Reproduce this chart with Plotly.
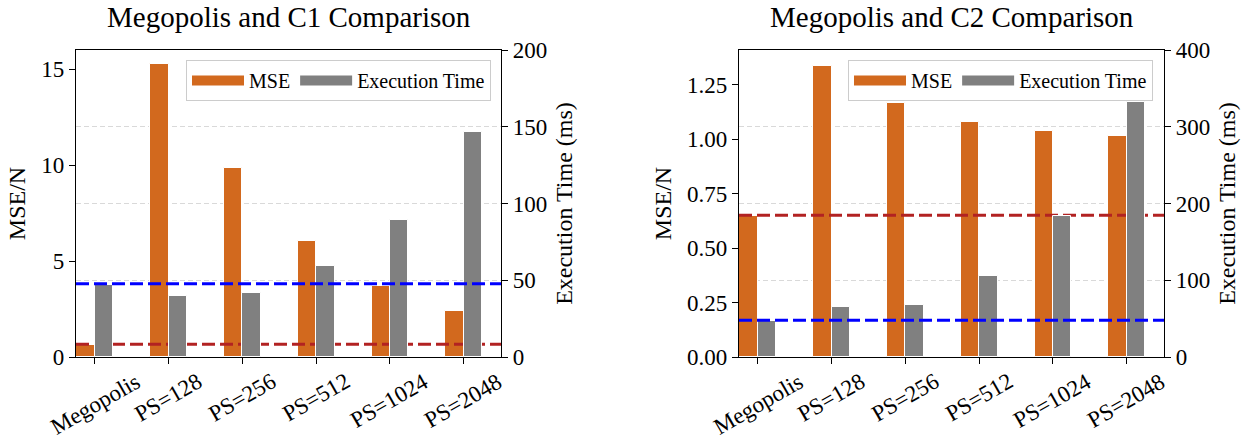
import plotly.graph_objects as go

# ---------------- data ----------------
categories = ["Megopolis", "PS=128", "PS=256", "PS=512", "PS=1024", "PS=2048"]

c1_mse = [0.62, 15.27, 9.83, 6.05, 3.70, 2.38]
c1_time = [46.8, 39.6, 41.5, 59.6, 89.3, 146.7]
c1_mse_ref = 0.66
c1_time_ref = 47.8

c2_mse = [0.647, 1.337, 1.166, 1.080, 1.039, 1.016]
c2_time = [46.5, 65.2, 67.4, 106.1, 183.9, 331.8]
c2_mse_ref = 0.651
c2_time_ref = 47.9

titles = ["Megopolis and C1 Comparison", "Megopolis and C2 Comparison"]

# ---------------- style ----------------
FONT = "Liberation Serif"
ORANGE = "#D2691E"
GRAY = "#808080"
RED = "#B22222"
BLUE = "#0000FF"
W, H = 1252, 442
XLIM = [-0.255, 5.505]
BAR_W = 0.25

pos = list(range(len(categories)))

fig = go.Figure()

panels = [
    dict(mse=c1_mse, time=c1_time, mref=c1_mse_ref, tref=c1_time_ref,
         x="x", y="y", y2="y2", legend="legend",
         ymax=16.0, t_max=200, t_dtick=50, m_dtick=5, m_fmt="d"),
    dict(mse=c2_mse, time=c2_time, mref=c2_mse_ref, tref=c2_time_ref,
         x="x2", y="y3", y2="y4", legend="legend2",
         ymax=1.409, t_max=400, t_dtick=100, m_dtick=0.25, m_fmt=".2f"),
]

for p in panels:
    fig.add_trace(go.Bar(x=pos, y=p["mse"], offset=-BAR_W, width=BAR_W,
                         marker=dict(color=ORANGE, line=dict(color="white", width=1)),
                         name="MSE", showlegend=False,
                         xaxis=p["x"], yaxis=p["y"]))
    fig.add_trace(go.Scatter(x=XLIM, y=[p["mref"]] * 2, mode="lines",
                             line=dict(color=RED, width=3, dash="13px,5px"),
                             showlegend=False, xaxis=p["x"], yaxis=p["y"], hoverinfo="skip"))
    fig.add_trace(go.Bar(x=pos, y=p["time"], offset=0, width=BAR_W,
                         marker=dict(color=GRAY, line=dict(color="white", width=1)),
                         name="Execution Time", showlegend=False,
                         xaxis=p["x"], yaxis=p["y2"]))
    fig.add_trace(go.Scatter(x=XLIM, y=[p["tref"]] * 2, mode="lines",
                             line=dict(color=BLUE, width=3, dash="13px,5px"),
                             showlegend=False, xaxis=p["x"], yaxis=p["y2"], hoverinfo="skip"))
    # legend entries (patch-like swatches)
    for nm, col in (("MSE", ORANGE), ("Execution Time", GRAY)):
        fig.add_trace(go.Scatter(x=[None], y=[None], mode="lines", name=nm,
                                 line=dict(color=col, width=12),
                                 legend=p["legend"], xaxis=p["x"], yaxis=p["y"]))

ydom = [1 - 357 / H, 1 - 50 / H]
xdoms = [[76 / W, 501 / W], [739 / W, 1164 / W]]

tickfont = dict(family=FONT, size=23, color="black")
titlefont = dict(family=FONT, size=24, color="black")

common_x = dict(range=XLIM, tickmode="array", tickvals=pos, ticktext=categories,
                showticklabels=False,
                ticks="outside", ticklen=6, tickwidth=1.2, tickcolor="black",
                showline=True, linecolor="black", linewidth=1.3, mirror=True,
                showgrid=False, zeroline=False, tickfont=tickfont, automargin=False)

layout = dict(
    width=W, height=H, margin=dict(l=0, r=0, t=0, b=0, autoexpand=False),
    paper_bgcolor="white", plot_bgcolor="white",
    font=dict(family=FONT, color="black"),
    bargap=0, showlegend=True,
)

for i, p in enumerate(panels):
    xname = "xaxis" if i == 0 else "xaxis2"
    yname = "yaxis" if i == 0 else "yaxis3"
    y2name = "yaxis2" if i == 0 else "yaxis4"
    layout[xname] = dict(domain=xdoms[i], anchor=p["y"], **common_x)
    layout[yname] = dict(domain=ydom, anchor=p["x"], range=[0, p["ymax"]],
                         dtick=p["m_dtick"], tickformat=p["m_fmt"], tick0=0,
                         ticks="outside", ticklen=6, tickwidth=1.2, tickcolor="black",
                         showline=True, linecolor="black", linewidth=1.3,
                         showgrid=False, zeroline=False, tickfont=tickfont, automargin=False,
                         title=dict(text="MSE/N", font=titlefont, standoff=8))
    layout[y2name] = dict(domain=ydom, anchor=p["x"], overlaying=p["y"], side="right",
                          range=[0, p["t_max"]], dtick=p["t_dtick"], tick0=0,
                          ticks="outside", ticklen=6, tickwidth=1.2, tickcolor="black",
                          showline=True, linecolor="black", linewidth=1.3,
                          showgrid=True, gridcolor="#d9d9d9", gridwidth=1, griddash="5px,3px",
                          zeroline=False, tickfont=tickfont, automargin=False,
                          title=dict(text="Execution Time (ms)", font=titlefont, standoff=8))

legend_common = dict(orientation="h", xanchor="right", yanchor="top",
                     bgcolor="rgba(255,255,255,0.8)", bordercolor="#cccccc", borderwidth=1,
                     font=dict(family=FONT, size=20, color="black"), traceorder="normal",
                     itemwidth=52, entrywidth=0)
layout["legend"] = dict(x=491 / W, y=1 - 60 / H, **legend_common)
layout["legend2"] = dict(x=1153 / W, y=1 - 60 / H, **legend_common)

annotations = []
for i, t in enumerate(titles):
    annotations.append(dict(text=t, xref="paper", yref="paper",
                            x=(xdoms[i][0] + xdoms[i][1]) / 2, y=1 - 17 / H,
                            xanchor="center", yanchor="middle", showarrow=False,
                            font=dict(family=FONT, size=29, color="black")))
# rotated category labels, centred under each tick (matplotlib style)
for i, p in enumerate(panels):
    for xv, lab in zip(pos, categories):
        annotations.append(dict(text=lab, xref=p["x"], yref="paper", x=xv, y=1 - 366 / H,
                                xanchor="center", yanchor="top", textangle=-30,
                                showarrow=False, font=tickfont))
layout["annotations"] = annotations

fig.update_layout(**layout)
fig.write_html("out.html")
